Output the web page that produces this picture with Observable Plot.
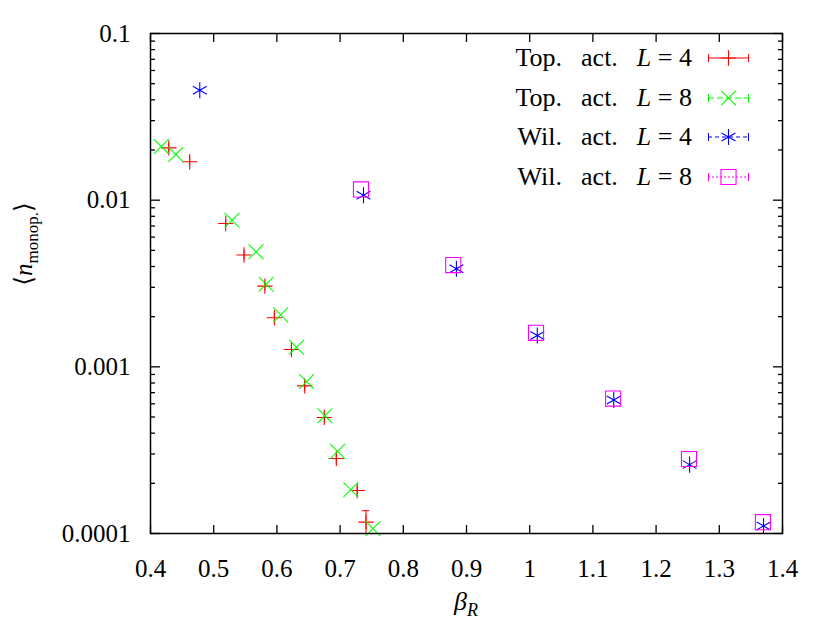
<!DOCTYPE html>
<html>
<head>
<meta charset="utf-8">
<script src="https://cdn.jsdelivr.net/npm/d3@7"></script>
<script src="https://cdn.jsdelivr.net/npm/@observablehq/plot@0.6"></script>
<style>
  html, body { margin: 0; padding: 0; background: #fff; }
  #wrap { position: relative; width: 831px; height: 621px; font-family: "Liberation Serif", "DejaVu Serif", serif; }
  #wrap svg text { font-family: "Liberation Serif", "DejaVu Serif", serif; }
  .ov { position: absolute; color: #000; white-space: nowrap; }
  .legrow { position: absolute; height: 30px; }
  .legtxt { position: absolute; right: 139px; font-size: 26px; line-height: 30px; white-space: nowrap; }
  .legsvg { position: absolute; left: 704px; top: 0; }
</style>
</head>
<body>
<div id="wrap"></div>
<script>
// ---- data ----
const betaTopL4 = [0.429, 0.462, 0.519, 0.548, 0.581, 0.596, 0.623, 0.644, 0.675, 0.694, 0.727, 0.741];
const nTopL4    = [0.0206, 0.0170, 0.00724, 0.00469, 0.00305, 0.00197, 0.00127, 0.000769, 0.000497, 0.000282, 0.000181, 0.000117];
const errTopL4  = [0.0012, 0.0010, 0.0004, 0.0003, 0.0002, 0.00012, 0.00008, 0.00005, 0.00003, 0.00002, 0.00001, 0.00002];

const betaTopL8 = [0.417, 0.440, 0.529, 0.567, 0.583, 0.606, 0.631, 0.647, 0.676, 0.696, 0.717, 0.752];
const nTopL8    = [0.0210, 0.0188, 0.00758, 0.00490, 0.00313, 0.00205, 0.00131, 0.000816, 0.000509, 0.000311, 0.000183, 0.000107];

const betaWilL4 = [0.478, 0.737, 0.884, 1.012, 1.133, 1.253, 1.370];
const nWilL4    = [0.0456, 0.0107, 0.00388, 0.00154, 0.000632, 0.000259, 0.000111];

const betaWilL8 = [0.733, 0.879, 1.010, 1.132, 1.252, 1.369];
const nWilL8    = [0.0116, 0.00408, 0.00160, 0.000645, 0.000280, 0.000117];

const xTicks = [0.4, 0.5, 0.6, 0.7, 0.8, 0.9, 1.0, 1.1, 1.2, 1.3, 1.4];
const yTicks = [0.0001, 0.001, 0.01, 0.1];
const yTickLabels = ["0.0001", "0.001", "0.01", "0.1"];
const yMinor = [0.0002,0.0003,0.0004,0.0005,0.0006,0.0007,0.0008,0.0009,
                0.002,0.003,0.004,0.005,0.006,0.007,0.008,0.009,
                0.02,0.03,0.04,0.05,0.06,0.07,0.08,0.09];

const seriesNames = ["Top.", "Top.", "Wil.", "Wil."];
const seriesL = ["4", "8", "4", "8"];
const seriesColors = ["#ff0000", "#00ff00", "#0000ff", "#ff00ff"];
const seriesSymbols = ["plus", "times", "asterisk", "square2"];
const seriesR = [5, 6.8, 7.6, 9.6];

// ---- tables ----
const mk = (xs, ys) => xs.map((x, i) => ({x, y: ys[i]}));
const topL4 = betaTopL4.map((x, i) => ({x, y: nTopL4[i], lo: nTopL4[i] - errTopL4[i], hi: nTopL4[i] + errTopL4[i]}));
const topL8 = mk(betaTopL8, nTopL8);
const wilL4 = mk(betaWilL4, nWilL4);
const wilL8 = mk(betaWilL8, nWilL8);

const font = '"Liberation Serif", "DejaVu Serif", serif';
const capHalf = 0.006;

const chart = Plot.plot({
  width: 831,
  height: 621,
  marginLeft: 150,
  marginRight: 49,
  marginTop: 33,
  marginBottom: 88,
  style: {fontFamily: font, fontSize: "25px", color: "#000", background: "#fff"},
  x: {type: "linear", domain: [0.4, 1.4]},
  y: {type: "log", domain: [0.0001, 0.1]},
  marks: [
    // error bars (red)
    Plot.ruleX(topL4, {x: "x", y1: "lo", y2: "hi", stroke: seriesColors[0], strokeWidth: 1, clip: true}),
    Plot.ruleY(topL4, {filter: d => (d.hi - d.y) / d.y > 0.12, y: "hi", x1: d => d.x - capHalf, x2: d => d.x + capHalf, stroke: seriesColors[0], strokeWidth: 1, clip: true}),
    Plot.dot(topL4, {x: "x", y: "y", symbol: () => seriesSymbols[0], stroke: seriesColors[0], r: seriesR[0], strokeWidth: 1.1}),
    Plot.dot(topL8, {x: "x", y: "y", symbol: () => seriesSymbols[1], stroke: seriesColors[1], r: seriesR[1], strokeWidth: 1.1}),
    Plot.dot(wilL4, {x: "x", y: "y", symbol: () => seriesSymbols[2], stroke: seriesColors[2], r: seriesR[2], strokeWidth: 1.1}),
    Plot.dot(wilL8, {x: "x", y: "y", symbol: () => seriesSymbols[3], stroke: seriesColors[3], r: seriesR[3], strokeWidth: 1.1}),
    // axes: inward ticks, mirrored (tick-only axes have no text)
    Plot.axisX({anchor: "bottom", ticks: xTicks, tickSize: -8, fill: "none", label: null, strokeWidth: 1.3}),
    Plot.axisX({anchor: "top", ticks: xTicks, tickSize: -8, fill: "none", label: null, strokeWidth: 1.3}),
    Plot.axisX({anchor: "bottom", ticks: xTicks, tickSize: 0, tickPadding: 26, tickFormat: d => String(+d.toFixed(1)), label: null}),
    Plot.axisY({anchor: "left", ticks: yTicks, tickSize: -10, fill: "none", label: null, strokeWidth: 1.3}),
    Plot.axisY({anchor: "right", ticks: yTicks, tickSize: -10, fill: "none", label: null, strokeWidth: 1.3}),
    Plot.axisY({anchor: "left", ticks: yMinor, tickSize: -5, fill: "none", label: null, strokeWidth: 1.3}),
    Plot.axisY({anchor: "right", ticks: yMinor, tickSize: -5, fill: "none", label: null, strokeWidth: 1.3}),
    Plot.axisY({anchor: "left", ticks: yTicks, tickSize: 0, tickPadding: 20, tickFormat: d => yTickLabels[yTicks.indexOf(d)], label: null}),
    Plot.frame({stroke: "#000", strokeWidth: 1.5})
  ]
});

const wrap = document.getElementById("wrap");
wrap.appendChild(chart);

// axis titles
const ylab = document.createElement("div");
ylab.className = "ov";
ylab.style.cssText = "left:24px;top:244px;font-size:25px;line-height:30px;transform:translate(-50%,-50%) rotate(-90deg);";
ylab.innerHTML = "⟨<i>n</i><sub style='font-size:17px;line-height:0'>monop.</sub>⟩";
wrap.appendChild(ylab);

const xlab = document.createElement("div");
xlab.className = "ov";
xlab.style.cssText = "left:466px;top:602px;font-size:26px;line-height:30px;transform:translate(-50%,-50%);";
xlab.innerHTML = "<i>β</i><sub style='font-size:18px;line-height:0'><i>R</i></sub>";
wrap.appendChild(xlab);

// legend
const rowY = [58, 98, 137, 177];
const dashes = [null, "6,3", "4,3", "2,2"];
const symType = {plus: d3.symbolPlus, times: d3.symbolTimes, asterisk: d3.symbolAsterisk, square2: d3.symbolSquare2};
seriesNames.forEach((name, i) => {
  const row = document.createElement("div");
  row.className = "legrow";
  row.style.cssText = `left:0;top:${rowY[i] - 15}px;width:831px;`;
  const t = document.createElement("span");
  t.className = "legtxt";
  t.innerHTML = `${name}<span style="margin-left:19px">act.</span><i style="margin-left:19px">L</i> = ${seriesL[i]}`;
  row.appendChild(t);
  const svg = d3.create("svg").attr("class", "legsvg").attr("width", 50).attr("height", 30);
  svg.append("line").attr("x1", 4).attr("x2", 45).attr("y1", 15).attr("y2", 15)
    .attr("stroke", seriesColors[i]).attr("stroke-width", 1).attr("stroke-dasharray", dashes[i]);
  svg.append("line").attr("x1", 4.5).attr("x2", 4.5).attr("y1", 11).attr("y2", 19).attr("stroke", seriesColors[i]);
  svg.append("line").attr("x1", 44.5).attr("x2", 44.5).attr("y1", 11).attr("y2", 19).attr("stroke", seriesColors[i]);
  const rr = seriesR[i];
  svg.append("path").attr("transform", "translate(24.5,15)")
    .attr("d", d3.symbol(symType[seriesSymbols[i]], Math.PI * rr * rr)())
    .attr("fill", "none").attr("stroke", seriesColors[i]).attr("stroke-width", 1.1);
  row.appendChild(svg.node());
  wrap.appendChild(row);
});
</script>
</body>
</html>
